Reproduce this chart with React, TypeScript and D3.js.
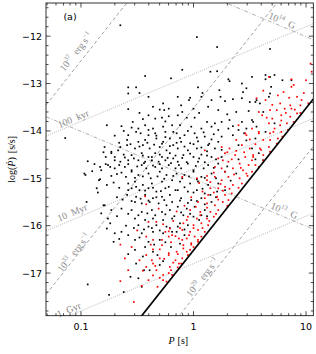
import React from 'react';
import * as d3 from 'd3';

const W = 316;
const H = 354;
const FRAME = { left: 46, right: 313.3, top: 3, bottom: 315.7 };

const P_DOMAIN: [number, number] = [0.0489, 11.6];
const LOGPDOT_DOMAIN: [number, number] = [-17.9, -11.3];

const X_TICKS = [0.1, 1, 10];
const X_TICK_LABELS = ['0.1', '1', '10'];
const Y_TICKS = [-17, -16, -15, -14, -13, -12];
const Y_TICK_LABELS = ['−17', '−16', '−15', '−14', '−13', '−12'];

// spin-down luminosity lines: log Pdot = logE - K + 3 log P
const EDOT_K = 46.52;
const EDOT_DASHED = [37, 33, 29];
const EDOT_DEATH = 30;
// characteristic age lines: log Pdot = log P - log(2 tau)
const AGE_LOG_SEC = [12.499, 14.499, 16.499];
// dipole field lines: log Pdot = 2 log B - 2 log(3.2e19) - log P
const B_LOG = [12, 14];
const B_CONST = 19.505;

// black pulsars: [log P, log Pdot]
const blackPulsars: [number, number][] = [
  [-0.65,-11.77],[-0.43,-12.84],[-0.58,-13.08],[-0.51,-13.08],[-0.58,-13.21],[-0.48,-13.20],[-0.40,-13.28],[-0.58,-13.54],[-0.36,-13.49],[-0.48,-13.62],[-0.77,-13.88],[-1.14,-14.15],[-0.94,-14.64],[-0.88,-14.70],[-0.78,-14.55],[-0.83,-14.76],[-0.97,-14.90],[-0.79,-14.34],[-0.73,-14.44],[-0.65,-14.34],[-0.70,-14.62],[-0.74,-14.76],
  [0.03,-12.02],[0.21,-12.23],[0.68,-12.27],[-0.10,-12.71],[0.15,-12.75],[0.21,-12.74],[0.31,-12.91],[0.32,-12.95],[0.43,-13.00],[0.47,-13.10],[0.44,-13.18],[-0.20,-12.89],[0.04,-13.08],[0.08,-13.20],[0.23,-13.14],[0.24,-13.28],[0.64,-12.91],[-0.27,-13.42],[-0.22,-13.53],[-0.04,-13.35],[0.69,-13.07],[0.56,-13.35],
  [-0.26,-13.56],[-0.64,-13.90],[-0.54,-13.81],[-0.40,-13.67],[-0.34,-13.74],[-0.28,-13.72],[-0.22,-13.69],[-0.49,-13.95],[-0.43,-13.88],[-0.36,-13.95],[-0.27,-13.91],[-0.19,-13.88],[-0.58,-14.09],[-0.51,-14.02],[-0.40,-14.09],[-0.34,-14.05],[-0.25,-14.02],[-0.59,-14.19],[-0.49,-14.23],[-0.43,-14.19],[-0.33,-14.16],[-0.27,-14.23],[-0.21,-14.16],[-0.67,-14.41],[-0.59,-14.30],[-0.52,-14.37],[-0.45,-14.30],[-0.39,-14.37],[-0.30,-14.34],[-0.24,-14.41],[-0.18,-14.30],[-0.73,-14.47],[-0.62,-14.50],[-0.55,-14.51],[-0.46,-14.47],[-0.40,-14.55],[-0.34,-14.47],[-0.28,-14.55],[-0.21,-14.47],[-0.65,-14.65],[-0.58,-14.62],[-0.49,-14.62],[-0.43,-14.65],[-0.37,-14.62],[-0.31,-14.65],[-0.25,-14.62],[-0.18,-14.58],[-0.76,-14.72],[-0.70,-14.79],[-0.61,-14.76],[-0.55,-14.83],[-0.46,-14.72],[-0.42,-14.79],[-0.34,-14.76],[-0.28,-14.79],[-0.22,-14.72],[-0.16,-14.79],[-0.82,-14.83],
  [-0.14,-13.28],[-0.03,-13.30],[0.07,-13.28],[0.16,-13.35],[0.28,-13.37],[0.35,-13.33],[0.43,-13.31],[0.50,-13.39],[-0.11,-13.46],[0.00,-13.53],[0.13,-13.49],[0.22,-13.56],[0.38,-13.60],[0.49,-13.58],[-0.14,-13.67],[-0.06,-13.72],[0.01,-13.72],[0.12,-13.81],[0.19,-13.84],[0.25,-13.81],[0.32,-13.77],[0.43,-13.81],[0.52,-13.77],[-0.12,-13.88],[-0.02,-13.91],[0.07,-13.95],[0.16,-13.91],[0.22,-13.98],[0.31,-13.95],[0.40,-13.98],[0.47,-13.95],[-0.15,-14.05],[-0.08,-14.09],[0.01,-14.05],[0.10,-14.12],[0.18,-14.07],[0.25,-14.12],[0.35,-14.09],[-0.11,-14.23],[-0.03,-14.26],[0.04,-14.22],[0.13,-14.30],[0.22,-14.23],[-0.14,-14.37],[-0.05,-14.41],[0.03,-14.37],[0.12,-14.43],[0.19,-14.37],[-0.09,-14.51],[0.00,-14.55],[0.07,-14.50],[0.16,-14.55],[-0.14,-14.65],[-0.05,-14.69],[0.04,-14.65],[0.13,-14.72],[0.22,-14.69],[-0.11,-14.79],[0.00,-14.83],[0.09,-14.79],
  [-0.68,-14.91],[-0.64,-14.88],[-0.55,-14.86],[-0.49,-14.93],[-0.40,-14.90],[-0.30,-14.86],[-0.24,-14.93],[-0.83,-15.02],[-0.71,-15.09],[-0.58,-15.11],[-0.52,-15.07],[-0.45,-15.14],[-0.37,-15.11],[-0.28,-15.07],[-0.19,-15.04],[-0.55,-15.21],[-0.48,-15.25],[-0.40,-15.21],[-0.33,-15.28],[-0.25,-15.21],[-0.59,-15.35],[-0.51,-15.39],[-0.43,-15.35],[-0.36,-15.42],[-0.28,-15.39],[-0.21,-15.35],[-0.52,-15.50],[-0.46,-15.53],[-0.39,-15.50],[-0.31,-15.53],[-0.24,-15.57],[-0.79,-15.57],[-0.73,-15.67],[-0.64,-15.64],[-0.55,-15.67],[-0.46,-15.71],[-0.37,-15.67],[-0.28,-15.71],[-0.21,-15.67],[-0.82,-15.74],[-0.76,-15.85],[-0.74,-15.95],[-0.52,-15.85],[-0.43,-15.88],[-0.36,-15.85],[-0.27,-15.88],[-0.19,-15.85],[-0.77,-16.06],[-0.49,-15.99],[-0.40,-16.02],[-0.33,-15.99],[-0.24,-16.02],[-0.64,-16.13],[-0.46,-16.16],[-0.36,-16.13],[-0.27,-16.16],[-0.19,-16.13],[-0.71,-16.34],[-0.52,-16.30],[-0.40,-16.34],[-0.30,-16.30],
  [-0.96,-14.93],[-0.86,-15.21],[-0.84,-15.04],[-0.77,-15.14],[-0.80,-15.57],[-0.70,-16.16],[-0.94,-17.24],[-0.75,-17.46],[-0.62,-17.40],[-0.49,-17.11],[-0.44,-16.94],[-0.52,-16.51],[-0.58,-16.20],
  [-0.15,-14.90],[-0.08,-14.93],[0.00,-14.86],[0.07,-14.97],[0.16,-14.90],[0.28,-14.86],[0.38,-14.90],[-0.12,-15.07],[-0.03,-15.11],[0.04,-15.07],[0.13,-15.14],[0.22,-15.11],[-0.14,-15.25],[-0.05,-15.28],[0.03,-15.25],[0.10,-15.32],[0.21,-15.28],[-0.11,-15.42],[-0.02,-15.46],[0.07,-15.42],[0.16,-15.50],[-0.14,-15.60],[-0.06,-15.64],[0.01,-15.60],[0.10,-15.67],[-0.09,-15.78],[0.00,-15.81],[0.07,-15.78],[-0.12,-15.95],[-0.05,-15.99],[-0.15,-16.13],[-0.08,-16.20],
  [-0.43,-16.45],[-0.36,-16.55],[-0.51,-16.80],[-0.39,-16.94],[-0.56,-17.08],[-0.46,-17.29],[-0.30,-16.83],
  [0.64,-12.82],[0.68,-12.86],[0.72,-12.82],[0.79,-12.93],[0.87,-12.93],[0.52,-12.86],[0.68,-13.21],[0.67,-13.28],[0.55,-13.39],[0.59,-13.42],[0.62,-13.60],[0.53,-13.81],[0.56,-13.91],[0.72,-13.84],[0.55,-14.16],[0.64,-14.02],[0.52,-14.37],[0.58,-14.47],[0.62,-14.62],
  [-0.62,-14.00],[-0.55,-13.93],[-0.47,-14.05],[-0.40,-13.98],[-0.33,-14.10],[-0.25,-14.13],[-0.18,-14.02],[-0.12,-14.15],[-0.05,-14.00],[0.03,-14.14],[0.09,-14.03],[0.16,-14.18],
  [-0.66,-14.25],[-0.56,-14.28],[-0.48,-14.33],[-0.41,-14.25],[-0.35,-14.29],[-0.28,-14.27],[-0.21,-14.32],[-0.15,-14.25],[-0.08,-14.33],[0.00,-14.28],[0.07,-14.35],[0.14,-14.27],[0.25,-14.40],
  [-0.70,-14.55],[-0.61,-14.56],[-0.53,-14.58],[-0.45,-14.52],[-0.37,-14.55],[-0.30,-14.50],[-0.23,-14.57],[-0.16,-14.52],[-0.10,-14.57],[-0.03,-14.48],[0.05,-14.58],[0.12,-14.52],[0.20,-14.60],
  [-0.78,-14.70],[-0.66,-14.72],[-0.58,-14.70],[-0.50,-14.75],[-0.44,-14.68],[-0.36,-14.73],[-0.30,-14.70],[-0.20,-14.68],[-0.13,-14.72],[-0.06,-14.66],[0.02,-14.74],[0.10,-14.66],[0.18,-14.78],
  [-0.73,-14.95],[-0.60,-14.97],[-0.52,-14.99],[-0.45,-14.96],[-0.38,-15.00],[-0.32,-14.96],[-0.26,-15.01],[-0.18,-14.95],[-0.10,-15.00],[-0.04,-14.96],[0.03,-15.02],[0.10,-14.99],[0.20,-15.00],
  [-0.66,-15.20],[-0.58,-15.25],[-0.51,-15.18],[-0.43,-15.26],[-0.36,-15.20],[-0.29,-15.27],[-0.22,-15.18],[-0.16,-15.25],[-0.08,-15.19],[0.00,-15.30],[0.08,-15.22],[0.15,-15.35],
  [-0.63,-15.45],[-0.55,-15.48],[-0.47,-15.43],[-0.40,-15.47],[-0.33,-15.40],[-0.26,-15.46],[-0.19,-15.50],[-0.12,-15.47],[-0.05,-15.52],[0.03,-15.48],[0.10,-15.55],
  [-0.68,-15.80],[-0.58,-15.75],[-0.49,-15.78],[-0.41,-15.74],[-0.34,-15.78],[-0.25,-15.76],[-0.17,-15.80],[-0.11,-15.72],[-0.03,-15.75],[0.05,-15.88],
  [-0.60,-16.00],[-0.53,-16.05],[-0.44,-16.08],[-0.37,-16.05],[-0.30,-16.10],[-0.21,-16.05],[-0.14,-16.02],[-0.08,-16.08],
  [-0.66,-16.28],[-0.48,-16.25],[-0.35,-16.40],[-0.25,-16.35],[-0.20,-16.45],[-0.12,-16.38],
  [-0.58,-16.60],[-0.45,-16.65],[-0.32,-16.62],[-0.27,-16.75],
  [-0.30,-13.55],[-0.10,-13.60],[0.05,-13.62],[0.30,-13.65],[-0.45,-13.75],[-0.25,-13.80],[0.35,-13.90],[0.45,-14.05],[-0.70,-14.10],[-0.80,-14.45],[-0.90,-14.85],[-0.85,-15.30],[-0.95,-15.50],[-0.68,-15.40],[0.25,-14.55],[0.30,-14.75],[0.40,-14.60],[0.28,-15.25],[0.33,-15.05],[0.20,-15.40],[0.12,-15.80],[0.40,-14.30],[0.47,-14.20],[0.55,-14.60],
];

// red pulsars: [log P, log Pdot]
const redPulsars: [number, number][] = [
  [0.40,-13.88],[0.47,-14.09],[0.38,-14.19],[0.25,-14.34],[0.32,-14.37],[0.43,-14.30],[0.50,-14.37],[0.28,-14.47],[0.37,-14.51],[0.46,-14.55],[0.53,-14.51],[0.10,-14.41],[0.22,-14.58],[0.31,-14.65],[0.41,-14.69],[0.49,-14.72],[0.25,-14.79],[0.35,-14.79],[0.44,-14.83],[0.19,-14.76],
  [-0.43,-15.38],[-0.31,-15.64],[-0.40,-15.92],[-0.33,-15.92],[-0.27,-15.97],[-0.21,-16.06],[-0.25,-16.13],[-0.19,-16.20],[-0.42,-16.23],[-0.36,-16.30],[-0.28,-16.41],[-0.22,-16.23],
  [-0.10,-14.97],[0.03,-15.00],[0.12,-15.04],[0.19,-14.97],[0.25,-15.04],[0.31,-14.97],[0.41,-15.00],[0.47,-14.90],[0.15,-15.21],[0.22,-15.21],[0.28,-15.18],[0.35,-15.14],[0.43,-15.11],[0.13,-15.35],[0.21,-15.39],[0.28,-15.35],[0.34,-15.32],[0.04,-15.50],[0.12,-15.53],[0.19,-15.57],[0.26,-15.50],[0.31,-15.46],[-0.03,-15.67],[0.06,-15.71],[0.15,-15.71],[0.22,-15.67],[-0.05,-15.81],[0.03,-15.85],[0.12,-15.85],[0.18,-15.81],[-0.09,-15.95],[0.00,-15.99],[0.07,-15.95],[0.13,-15.99],[-0.10,-16.09],[-0.03,-16.13],[0.04,-16.09],[0.10,-16.13],[-0.13,-16.27],[-0.06,-16.27],[0.01,-16.23],[0.07,-16.23],[-0.02,-16.37],[0.04,-16.34],[-0.09,-16.41],
  [-0.61,-16.69],[-0.65,-17.17],[-0.53,-17.61],[-0.42,-16.62],[-0.30,-16.69],[-0.22,-16.62],[-0.15,-16.55],[-0.09,-16.48],[-0.03,-16.51],[0.00,-16.45],[-0.16,-16.73],[-0.10,-16.69],[-0.05,-16.62],[-0.21,-16.87],[-0.14,-16.88],[-0.11,-16.80],[-0.33,-16.94],[-0.27,-17.04],[-0.19,-17.04],[-0.40,-17.15],[-0.24,-17.18],[-0.36,-16.80],
  [-0.58,-16.94],[-0.46,-17.27],[-0.48,-16.73],[-0.42,-16.87],[-0.36,-16.50],[-0.37,-16.73],
  [-0.32,-17.29],[-0.27,-17.15],[-0.20,-16.94],[-0.13,-16.80],
  [0.87,-13.07],[0.89,-13.03],[0.80,-13.18],[1.05,-12.75],[0.64,-13.35],[0.56,-13.31],[0.92,-13.28],[0.96,-13.35],[0.77,-13.42],[0.86,-13.46],[1.02,-13.42],[0.68,-13.56],[0.74,-13.56],[0.81,-13.53],[0.87,-13.53],[0.95,-13.46],[0.61,-13.67],[0.70,-13.74],[0.78,-13.67],[0.86,-13.70],[0.92,-13.63],[0.67,-13.84],[0.77,-13.88],[0.83,-13.84],[0.89,-13.81],[0.58,-14.02],[0.71,-14.02],[0.78,-14.02],[0.84,-13.98],[0.62,-14.19],[0.68,-14.19],[0.75,-14.16],[0.79,-14.12],[0.59,-14.37],[0.67,-14.34],[0.74,-14.27],[0.53,-14.55],[0.62,-14.51],[0.68,-14.44],[0.55,-14.72],[0.62,-14.62],[0.52,-14.86],[0.58,-14.76],
  [1.04,-12.58],[0.67,-12.86],[0.87,-12.91],[1.00,-12.93],
  [0.30,-14.45],[0.38,-14.42],[0.45,-14.45],[0.52,-14.62],[0.26,-14.62],[0.34,-14.60],[0.42,-14.78],[0.48,-14.95],[0.36,-14.92],[0.28,-14.86],[0.18,-14.88],[0.12,-14.95],
  [0.05,-15.10],[0.15,-15.08],[0.24,-15.12],[0.32,-15.22],[0.40,-15.20],[0.08,-15.28],[0.18,-15.30],[0.26,-15.26],[-0.02,-15.40],[0.10,-15.42],[0.22,-15.45],[0.30,-15.58],
  [-0.08,-15.58],[0.02,-15.60],[0.12,-15.62],[0.20,-15.75],[-0.15,-15.70],[-0.06,-15.88],[0.06,-15.78],[0.14,-15.90],[-0.18,-15.90],[-0.12,-16.05],[0.00,-16.05],[0.08,-16.05],
  [-0.22,-16.12],[-0.16,-16.22],[-0.04,-16.20],[0.04,-16.30],[-0.28,-16.30],[-0.20,-16.35],[-0.10,-16.30],[-0.02,-16.40],[-0.30,-16.50],[-0.22,-16.58],[-0.14,-16.60],[-0.06,-16.55],
  [-0.38,-16.40],[-0.26,-16.70],[-0.18,-16.78],[-0.34,-16.85],[-0.22,-17.00],[-0.30,-17.10],[-0.36,-17.05],
  [0.55,-14.28],[0.60,-14.40],[0.50,-14.18],[0.58,-14.05],[0.68,-14.05],[0.72,-13.95],[0.65,-13.72],[0.78,-13.78],[0.82,-13.62],[0.70,-13.45],[0.90,-13.55],[0.95,-13.62],[0.75,-13.25],[0.62,-13.15],[0.85,-13.30],[0.98,-13.20],[0.58,-13.60],[0.52,-13.95],[0.46,-14.05],
  [-0.50,-16.10],[-0.55,-16.45],[-0.45,-16.95],[-0.65,-16.40],[-0.42,-15.55],
];

type LineSpec = { kind: 'edot' | 'age' | 'b' | 'death'; value: number };
const LINES: LineSpec[] = [
  ...EDOT_DASHED.map((v) => ({ kind: 'edot' as const, value: v })),
  ...AGE_LOG_SEC.map((v) => ({ kind: 'age' as const, value: v })),
  ...B_LOG.map((v) => ({ kind: 'b' as const, value: v })),
  { kind: 'death', value: EDOT_DEATH },
];

function lineFn(s: LineSpec) {
  if (s.kind === 'edot' || s.kind === 'death') return (lp: number) => s.value - EDOT_K + 3 * lp;
  if (s.kind === 'age') return (lp: number) => lp - Math.log10(2) - s.value;
  return (lp: number) => 2 * s.value - 2 * B_CONST - lp;
}

// label anchors: [log P, log Pdot] of text centre
const LABELS: { spec: LineSpec; at: [number, number]; parts: [string, boolean][] }[] = [
  { spec: LINES[0], at: [-1.05, -12.32], parts: [['10', false], ['37', true], ['\u2002erg\u2009s', false], ['−1', true]] },
  { spec: LINES[1], at: [-1.07, -16.56], parts: [['10', false], ['33', true], ['\u2002erg\u2009s', false], ['−1', true]] },
  { spec: LINES[2], at: [0.075, -17.08], parts: [['10', false], ['29', true], ['\u2002erg\u2009s', false], ['−1', true]] },
  { spec: LINES[3], at: [-1.07, -13.73], parts: [['100\u2002kyr', false]] },
  { spec: LINES[4], at: [-1.08, -15.71], parts: [['10\u2002Myr', false]] },
  { spec: LINES[5], at: [-1.11, -17.76], parts: [['1\u2002Gyr', false]] },
  { spec: LINES[6], at: [0.81, -15.67], parts: [['10', false], ['12', true], ['\u2002G', false]] },
  { spec: LINES[7], at: [0.79, -11.66], parts: [['10', false], ['14', true], ['\u2002G', false]] },
];

export default function App() {
  const x = d3.scaleLog().domain(P_DOMAIN).range([FRAME.left, FRAME.right]);
  const y = d3.scaleLinear().domain(LOGPDOT_DOMAIN).range([FRAME.bottom, FRAME.top]);
  const lpMin = Math.log10(P_DOMAIN[0]);
  const lpMax = Math.log10(P_DOMAIN[1]);
  const line = d3
    .line<[number, number]>()
    .x((d) => x(Math.pow(10, d[0])))
    .y((d) => y(d[1]));

  const styleFor = (k: LineSpec['kind']) => {
    if (k === 'edot') return { stroke: '#8c8c8c', strokeWidth: 0.8, strokeDasharray: '3.5,2.5' };
    if (k === 'age') return { stroke: '#b0b0b0', strokeWidth: 0.9, strokeDasharray: '1,1.2' };
    if (k === 'b') return { stroke: '#9a9a9a', strokeWidth: 0.8, strokeDasharray: '4,1.8,1,1.8' };
    return { stroke: '#000', strokeWidth: 1.7, strokeDasharray: undefined };
  };

  const angleFor = (s: LineSpec) => {
    const f = lineFn(s);
    const a = [x(Math.pow(10, -1)), y(f(-1))];
    const b = [x(Math.pow(10, 0)), y(f(0))];
    return (Math.atan2(b[1] - a[1], b[0] - a[0]) * 180) / Math.PI;
  };

  // ticks
  const xMinor: number[] = [];
  for (let e = -2; e <= 1; e++) {
    for (let k = 2; k <= 9; k++) {
      const v = k * Math.pow(10, e);
      if (v > P_DOMAIN[0] && v < P_DOMAIN[1]) xMinor.push(v);
    }
  }
  const yMinor: number[] = [];
  for (let v = -17.8; v < -11.3; v += 0.2) {
    const r = Math.round(v * 10) / 10;
    if (Math.abs(r - Math.round(r)) > 0.05) yMinor.push(r);
  }
  const MAJ = 4.5;
  const MIN = 2.5;
  const tickStroke = { stroke: '#000', strokeWidth: 0.7 };

  const labelFont = "'Liberation Serif','DejaVu Serif',serif";
  const LFS = 9.8;
  const SFS = 6.5;

  return (
    <svg width={W} height={H} style={{ position: 'absolute', left: 0, top: 0, display: 'block', background: '#fff' }}>
      <defs>
        <clipPath id="plotclip">
          <rect x={FRAME.left} y={FRAME.top} width={FRAME.right - FRAME.left} height={FRAME.bottom - FRAME.top} />
        </clipPath>
      </defs>
      <rect x={0} y={0} width={W} height={H} fill="#fff" />
      <g clipPath="url(#plotclip)">
        {LINES.filter((s) => s.kind !== 'death').map((s, i) => {
          const f = lineFn(s);
          const st = styleFor(s.kind);
          return (
            <path
              key={'l' + i}
              d={line([[lpMin, f(lpMin)], [lpMax, f(lpMax)]]) || ''}
              fill="none"
              stroke={st.stroke}
              strokeWidth={st.strokeWidth}
              strokeDasharray={st.strokeDasharray}
            />
          );
        })}
        {blackPulsars.map((d, i) => (
          <rect key={'b' + i} x={x(Math.pow(10, d[0])) - 0.85} y={y(d[1]) - 0.85} width={1.7} height={1.7} fill="#000" />
        ))}
        {redPulsars.map((d, i) => (
          <rect key={'r' + i} x={x(Math.pow(10, d[0])) - 0.85} y={y(d[1]) - 0.85} width={1.7} height={1.7} fill="#ff0000" />
        ))}
        {LINES.filter((s) => s.kind === 'death').map((s, i) => {
          const f = lineFn(s);
          return (
            <path key={'d' + i} d={line([[lpMin, f(lpMin)], [lpMax, f(lpMax)]]) || ''} fill="none" stroke="#000" strokeWidth={1.7} />
          );
        })}
      </g>

      {LABELS.map((lb, i) => {
        const cx = x(Math.pow(10, lb.at[0]));
        const cy = y(lb.at[1]);
        const ang = angleFor(lb.spec);
        let shift = 0;
        return (
          <text
            key={'t' + i}
            transform={`translate(${cx},${cy}) rotate(${ang})`}
            textAnchor="middle"
            dominantBaseline="central"
            fontFamily={labelFont}
            fontSize={LFS}
            fill="#8a8a8a"
          >
            {lb.parts.map(([t, sup], j) => {
              const dy = sup ? -3.3 - shift : -shift;
              shift = sup ? -3.3 : 0;
              return (
                <tspan key={j} dy={dy} fontSize={sup ? SFS : LFS}>
                  {t}
                </tspan>
              );
            })}
          </text>
        );
      })}

      <text x={70} y={16} textAnchor="middle" dominantBaseline="central" fontFamily="'DejaVu Sans',sans-serif" fontSize={9.5} fill="#000">
        (a)
      </text>

      {/* frame */}
      <rect
        x={FRAME.left}
        y={FRAME.top}
        width={FRAME.right - FRAME.left}
        height={FRAME.bottom - FRAME.top}
        fill="none"
        stroke="#000"
        strokeWidth={0.8}
      />

      {/* x ticks */}
      {X_TICKS.map((v, i) => (
        <g key={'xt' + i}>
          <line x1={x(v)} x2={x(v)} y1={FRAME.bottom} y2={FRAME.bottom - MAJ} {...tickStroke} />
          <line x1={x(v)} x2={x(v)} y1={FRAME.top} y2={FRAME.top + MAJ} {...tickStroke} />
          <text x={x(v)} y={326} textAnchor="middle" dominantBaseline="central" fontFamily="'DejaVu Sans',sans-serif" fontSize={9.5} fill="#000">
            {X_TICK_LABELS[i]}
          </text>
        </g>
      ))}
      {xMinor.map((v, i) => (
        <g key={'xm' + i}>
          <line x1={x(v)} x2={x(v)} y1={FRAME.bottom} y2={FRAME.bottom - MIN} {...tickStroke} />
          <line x1={x(v)} x2={x(v)} y1={FRAME.top} y2={FRAME.top + MIN} {...tickStroke} />
        </g>
      ))}
      {/* y ticks */}
      {Y_TICKS.map((v, i) => (
        <g key={'yt' + i}>
          <line x1={FRAME.left} x2={FRAME.left + MAJ} y1={y(v)} y2={y(v)} {...tickStroke} />
          <line x1={FRAME.right} x2={FRAME.right - MAJ} y1={y(v)} y2={y(v)} {...tickStroke} />
          <text x={42} y={y(v)} textAnchor="end" dominantBaseline="central" fontFamily="'DejaVu Sans',sans-serif" fontSize={9.5} fill="#000">
            {Y_TICK_LABELS[i]}
          </text>
        </g>
      ))}
      {yMinor.map((v, i) => (
        <g key={'ym' + i}>
          <line x1={FRAME.left} x2={FRAME.left + MIN} y1={y(v)} y2={y(v)} {...tickStroke} />
          <line x1={FRAME.right} x2={FRAME.right - MIN} y1={y(v)} y2={y(v)} {...tickStroke} />
        </g>
      ))}

      {/* axis titles */}
      <text x={168.5} y={343.5} fontFamily={labelFont} fontSize={10} fill="#000">
        <tspan fontStyle="italic">P</tspan>
        <tspan dx={3}>[s]</tspan>
      </text>
      <text
        transform={`translate(15,${(FRAME.top + FRAME.bottom) / 2}) rotate(-90)`}
        textAnchor="middle"
        fontFamily={labelFont}
        fontSize={10}
        fill="#000"
      >
        <tspan>log(</tspan>
        <tspan fontStyle="italic">Ṗ</tspan>
        <tspan>)</tspan>
        <tspan dx={4}>[s/s]</tspan>
      </text>
    </svg>
  );
}
